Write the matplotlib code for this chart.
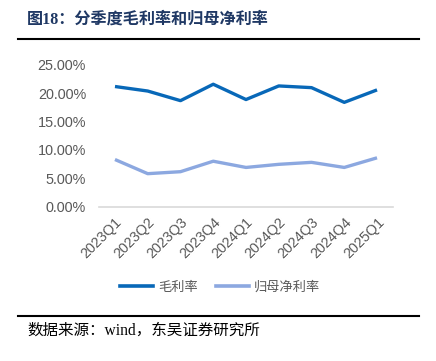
import matplotlib
matplotlib.use("Agg")
import matplotlib.pyplot as plt
from matplotlib.lines import Line2D
from matplotlib.ticker import FuncFormatter

categories = ["2023Q1", "2023Q2", "2023Q3", "2023Q4", "2024Q1", "2024Q2", "2024Q3", "2024Q4", "2025Q1"]
gross_margin = [21.2, 20.4, 18.7, 21.6, 18.9, 21.3, 21.0, 18.4, 20.6]
net_margin = [8.3, 5.8, 6.15, 8.0, 6.9, 7.45, 7.8, 6.9, 8.6]
y_ticks = [0, 5, 10, 15, 20, 25]

title = "图18：分季度毛利率和归母净利率"
source = "数据来源：wind，东吴证券研究所"
series_names = ["毛利率", "归母净利率"]

W, H = 436, 361
fig = plt.figure(figsize=(W / 100, H / 100), dpi=100)

ax = fig.add_axes([98.6 / W, 1 - 206.5 / H, (393.4 - 98.6) / W, (206.5 - 65) / H])
x = list(range(len(categories)))
c1, c2 = "#0868B8", "#8CA8E0"
ax.plot(x, gross_margin, color=c1, lw=2.4, solid_capstyle="butt")
ax.plot(x, net_margin, color=c2, lw=2.4, solid_capstyle="butt")
ax.set_xlim(-0.5, len(categories) - 0.5)
ax.set_ylim(0, 25)
ax.set_yticks(y_ticks)
ax.yaxis.set_major_formatter(FuncFormatter(lambda v, p: f"{v:.2f}%"))
ax.set_xticks(x)
ax.set_xticklabels(categories, rotation=45, ha="right", rotation_mode="anchor")
for s in ["top", "right", "left"]:
    ax.spines[s].set_visible(False)
ax.spines["bottom"].set_color("#D9D9D9")
ax.spines["bottom"].set_linewidth(1.2)
ax.spines["bottom"].set_zorder(0)
ax.tick_params(axis="both", length=0, colors="#595959", labelsize=10.4)
ax.tick_params(axis="y", pad=9)
ax.tick_params(axis="x", pad=6)
for lab in ax.get_xticklabels() + ax.get_yticklabels():
    lab.set_fontfamily(["Liberation Sans", "DejaVu Sans"])

handles = [Line2D([], [], color=c1, lw=2.6), Line2D([], [], color=c2, lw=2.6)]
leg = fig.legend(handles, series_names, loc="center", bbox_to_anchor=(220 / W, 1 - 287 / H),
                 ncol=2, frameon=False, handlelength=2.5, handletextpad=0.35, columnspacing=1.35,
                 prop={"family": ["Noto Sans CJK SC"], "size": 9.5})
for t in leg.get_texts():
    t.set_color("#595959")

fig.text(27 / W, 1 - 20 / H, title, fontsize=11.6, fontweight="bold", color="#1F3864",
         family=["Liberation Serif", "Noto Sans CJK SC"], va="center", ha="left")
fig.add_artist(Line2D([18 / W, 419 / W], [1 - 39 / H, 1 - 39 / H], color="black", lw=1.5))
fig.add_artist(Line2D([18 / W, 419 / W], [1 - 316 / H, 1 - 316 / H], color="black", lw=1.5))
fig.text(27 / W, 1 - 331 / H, source, fontsize=11.2, color="black",
         family=["Liberation Serif", "Noto Sans CJK SC"], va="center", ha="left")

fig.savefig("out.png", dpi=100)
